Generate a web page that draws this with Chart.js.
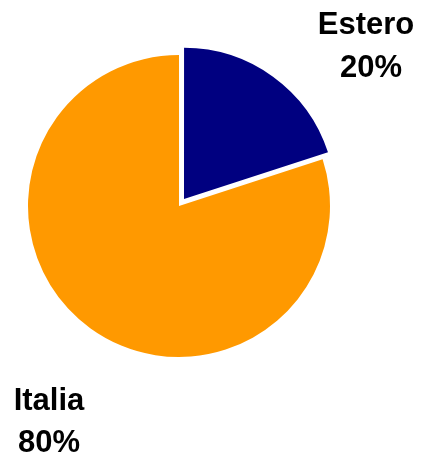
<!DOCTYPE html>
<html>
<head>
<meta charset="utf-8">
<script src="https://cdn.jsdelivr.net/npm/chart.js@4/dist/chart.umd.min.js"></script>
<style>
html,body{margin:0;padding:0;background:#fff;}
canvas{display:block;}
</style>
</head>
<body>
<canvas id="c" width="421" height="456"></canvas>
<script>
const categories = ["Estero", "Italia"];
const values = [20, 80];
const percentLabels = ["20%", "80%"];
const colors = ["#000080", "#FF9900"];

const labelPlugin = {
  id: 'outerLabels',
  afterDraw(chart) {
    const ctx = chart.ctx;
    const pos = [ {x: 366, y1: 34, y2: 77}, {x: 49, y1: 410, y2: 452} ];
    ctx.save();
    ctx.fillStyle = '#000';
    ctx.font = 'bold 31px "Liberation Sans", Arial, sans-serif';
    ctx.textAlign = 'center';
    ctx.textBaseline = 'alphabetic';
    categories.forEach((c, i) => {
      ctx.fillText(c, pos[i].x, pos[i].y1);
      ctx.fillText(percentLabels[i], pos[i].x + (i === 0 ? 5 : 0), pos[i].y2);
    });
    ctx.restore();
  }
};

new Chart(document.getElementById('c'), {
  type: 'pie',
  data: {
    labels: categories,
    datasets: [{
      data: values,
      backgroundColor: colors,
      borderWidth: 0,
      offset: [34, 0]
    }]
  },
  options: {
    responsive: false,
    animation: false,
    radius: 151,
    layout: { padding: { left: 0, right: 63, top: 0, bottom: 44 } },
    plugins: { legend: { display: false }, tooltip: { enabled: false } }
  },
  plugins: [labelPlugin]
});
</script>
</body>
</html>
